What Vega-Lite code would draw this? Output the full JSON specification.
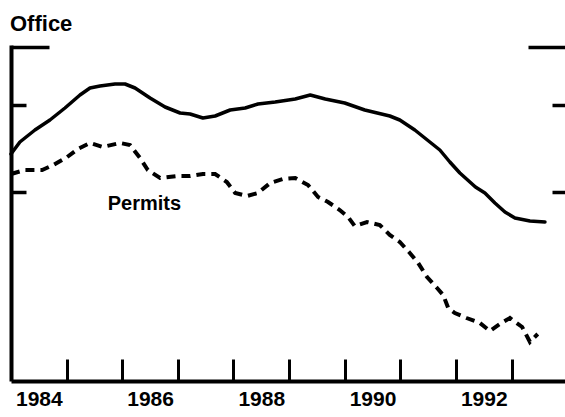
{
  "$schema": "https://vega.github.io/schema/vega-lite/v6.json",
  "width": 554,
  "height": 336,
  "autosize": {"type": "none"},
  "padding": {"left": 11, "right": 0, "top": 45, "bottom": 36},
  "background": "white",
  "title": {
    "text": "Office",
    "anchor": "start",
    "frame": "group",
    "baseline": "alphabetic",
    "offset": 17,
    "dx": -1,
    "dy": 25,
    "fontSize": 22,
    "fontWeight": "bold",
    "font": "Liberation Sans",
    "color": "black"
  },
  "config": {"view": {"stroke": null}, "font": "Liberation Sans"},
  "datasets": {
    "office": [
      {"year": 1984.0, "value": 227},
      {"year": 1984.16, "value": 239},
      {"year": 1984.43, "value": 251},
      {"year": 1984.7, "value": 261},
      {"year": 1984.97, "value": 273},
      {"year": 1985.24, "value": 286},
      {"year": 1985.42, "value": 293},
      {"year": 1985.6, "value": 295},
      {"year": 1985.87, "value": 297},
      {"year": 1986.05, "value": 297},
      {"year": 1986.23, "value": 293},
      {"year": 1986.5, "value": 283},
      {"year": 1986.77, "value": 274},
      {"year": 1987.04, "value": 268},
      {"year": 1987.22, "value": 267},
      {"year": 1987.45, "value": 263},
      {"year": 1987.67, "value": 265},
      {"year": 1987.94, "value": 271},
      {"year": 1988.21, "value": 273},
      {"year": 1988.44, "value": 277},
      {"year": 1988.75, "value": 279},
      {"year": 1989.11, "value": 282},
      {"year": 1989.38, "value": 286},
      {"year": 1989.65, "value": 282},
      {"year": 1990.0, "value": 278},
      {"year": 1990.36, "value": 271},
      {"year": 1990.81, "value": 265},
      {"year": 1990.99, "value": 261},
      {"year": 1991.26, "value": 251},
      {"year": 1991.53, "value": 239},
      {"year": 1991.71, "value": 231},
      {"year": 1991.89, "value": 219},
      {"year": 1992.07, "value": 208},
      {"year": 1992.35, "value": 194},
      {"year": 1992.52, "value": 188},
      {"year": 1992.7, "value": 178},
      {"year": 1992.88, "value": 169},
      {"year": 1993.06, "value": 163},
      {"year": 1993.33, "value": 160},
      {"year": 1993.6, "value": 159}
    ],
    "permits": [
      {"year": 1984.0, "value": 207},
      {"year": 1984.25, "value": 211},
      {"year": 1984.56, "value": 211},
      {"year": 1984.76, "value": 216},
      {"year": 1985.01, "value": 224},
      {"year": 1985.2, "value": 232},
      {"year": 1985.42, "value": 238},
      {"year": 1985.65, "value": 234},
      {"year": 1985.96, "value": 238},
      {"year": 1986.14, "value": 236},
      {"year": 1986.32, "value": 223},
      {"year": 1986.46, "value": 211},
      {"year": 1986.68, "value": 203},
      {"year": 1986.98, "value": 205},
      {"year": 1987.22, "value": 205},
      {"year": 1987.45, "value": 207},
      {"year": 1987.67, "value": 207},
      {"year": 1987.88, "value": 199},
      {"year": 1988.03, "value": 188},
      {"year": 1988.24, "value": 185},
      {"year": 1988.44, "value": 188},
      {"year": 1988.66, "value": 198},
      {"year": 1988.89, "value": 202},
      {"year": 1989.11, "value": 203},
      {"year": 1989.34, "value": 196},
      {"year": 1989.52, "value": 184},
      {"year": 1989.7, "value": 179},
      {"year": 1989.91, "value": 171},
      {"year": 1990.06, "value": 164},
      {"year": 1990.18, "value": 155},
      {"year": 1990.4, "value": 159},
      {"year": 1990.63, "value": 156},
      {"year": 1990.81, "value": 146},
      {"year": 1990.99, "value": 139},
      {"year": 1991.17, "value": 128},
      {"year": 1991.32, "value": 118},
      {"year": 1991.48, "value": 104},
      {"year": 1991.66, "value": 93},
      {"year": 1991.77, "value": 86},
      {"year": 1991.86, "value": 73},
      {"year": 1991.98, "value": 68},
      {"year": 1992.19, "value": 63},
      {"year": 1992.43, "value": 58},
      {"year": 1992.61, "value": 50},
      {"year": 1992.79, "value": 57},
      {"year": 1992.97, "value": 63},
      {"year": 1993.19, "value": 54},
      {"year": 1993.33, "value": 39},
      {"year": 1993.47, "value": 47}
    ],
    "labels": [
      {"label": "Permits", "year": 1985.74, "value": 171}
    ]
  },
  "encoding": {
    "x": {
      "field": "year",
      "type": "quantitative",
      "scale": {"domain": [1984, 1993.96], "nice": false, "zero": false},
      "axis": {
        "orient": "bottom",
        "values": [1984.5, 1985, 1986, 1986.5, 1987, 1988, 1988.5, 1989, 1990, 1990.5, 1991, 1992, 1992.5, 1993],
        "labelExpr": "datum.value % 1 != 0 ? toString(floor(datum.value)) : ''",
        "tickOpacity": {"condition": {"test": "datum.value % 1 != 0", "value": 0}, "value": 1},
        "tickSize": -22,
        "tickWidth": 3,
        "tickColor": "black",
        "domainColor": "black",
        "domainWidth": 4,
        "labelFontSize": 21,
        "labelFontWeight": "bold",
        "labelFont": "Liberation Sans",
        "labelColor": "black",
        "labelPadding": 29,
        "labelFlush": false,
        "labelOverlap": false,
        "labelBound": false,
        "grid": false,
        "title": null
      }
    }
  },
  "layer": [
    {
      "data": {"name": "office"},
      "mark": {"type": "line", "color": "black", "strokeWidth": 3.5, "strokeJoin": "round", "strokeCap": "round"},
      "encoding": {
        "y": {
          "field": "value",
          "type": "quantitative",
          "scale": {"domain": [0, 336], "nice": false, "zero": false},
          "axis": {
            "orient": "left",
            "values": [189, 276, 334],
            "labels": false,
            "title": null,
            "grid": false,
            "tickSize": -38,
            "tickWidth": 3.5,
            "tickColor": "black",
            "tickDash": {"condition": {"test": "datum.value < 300", "value": [15, 60]}, "value": [100, 1]},
            "domainWidth": 4,
            "domainColor": "black"
          }
        }
      }
    },
    {
      "data": {"name": "permits"},
      "mark": {"type": "line", "color": "black", "strokeWidth": 4, "strokeDash": [9, 6]},
      "encoding": {
        "y": {
          "field": "value",
          "type": "quantitative",
          "axis": {
            "orient": "right",
            "values": [189, 276, 334],
            "labels": false,
            "title": null,
            "grid": false,
            "domain": false,
            "tickSize": -37,
            "tickWidth": 3.5,
            "tickColor": "black",
            "tickDash": {"condition": {"test": "datum.value < 300", "value": [13, 60]}, "value": [100, 1]}
          }
        }
      }
    },
    {
      "data": {"name": "labels"},
      "mark": {"type": "text", "align": "left", "baseline": "alphabetic", "fontSize": 20, "fontWeight": "bold", "font": "Liberation Sans", "color": "black"},
      "encoding": {
        "y": {"field": "value", "type": "quantitative", "axis": null},
        "text": {"field": "label"}
      }
    }
  ],
  "resolve": {"axis": {"y": "independent"}}
}
